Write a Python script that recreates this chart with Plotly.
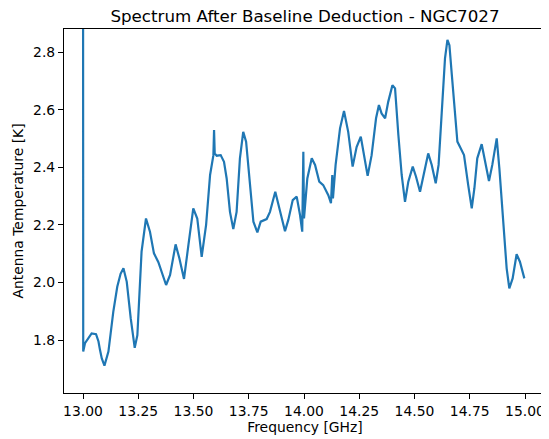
import plotly.graph_objects as go

# Spectrum values
freq_ghz = [
    13.000, 13.001, 13.009, 13.020, 13.039, 13.059, 13.070, 13.077, 13.085, 13.097,
    13.115, 13.137, 13.155, 13.170, 13.183, 13.198, 13.216, 13.234, 13.246, 13.265,
    13.285, 13.303, 13.321, 13.341, 13.360, 13.376, 13.394, 13.419, 13.436, 13.457,
    13.477, 13.499, 13.517, 13.537, 13.557, 13.575, 13.590, 13.593, 13.596, 13.605,
    13.623, 13.638, 13.650, 13.665, 13.680, 13.695, 13.710, 13.725, 13.738, 13.756,
    13.771, 13.789, 13.804, 13.831, 13.846, 13.870, 13.891, 13.914, 13.929, 13.949,
    13.967, 13.982, 13.992, 13.997, 14.000, 14.015, 14.035, 14.050, 14.069, 14.087,
    14.110, 14.122, 14.128, 14.131, 14.143, 14.163, 14.181, 14.200, 14.220, 14.238,
    14.257, 14.271, 14.288, 14.306, 14.326, 14.339, 14.351, 14.367, 14.381, 14.400,
    14.412, 14.427, 14.442, 14.457, 14.472, 14.492, 14.507, 14.525, 14.543, 14.562,
    14.578, 14.596, 14.609, 14.623, 14.638, 14.649, 14.658, 14.669, 14.683, 14.694,
    14.709, 14.724, 14.743, 14.759, 14.771, 14.784, 14.804, 14.819, 14.837, 14.852,
    14.872, 14.884, 14.902, 14.917, 14.929, 14.944, 14.962, 14.977, 14.997,
]
temp_k = [
    3.500, 1.760, 1.789, 1.800, 1.823, 1.820, 1.795, 1.765, 1.736, 1.711,
    1.760, 1.898, 1.985, 2.030, 2.049, 2.002, 1.875, 1.773, 1.817, 2.107,
    2.222, 2.176, 2.101, 2.070, 2.030, 1.991, 2.026, 2.132, 2.084, 2.012,
    2.130, 2.257, 2.222, 2.089, 2.200, 2.373, 2.442, 2.529, 2.448, 2.440,
    2.442, 2.419, 2.361, 2.245, 2.185, 2.245, 2.431, 2.523, 2.489, 2.338,
    2.211, 2.174, 2.211, 2.220, 2.245, 2.315, 2.245, 2.178, 2.217, 2.286,
    2.298, 2.234, 2.176, 2.454, 2.222, 2.361, 2.431, 2.408, 2.350, 2.338,
    2.303, 2.275, 2.373, 2.292, 2.408, 2.535, 2.595, 2.523, 2.402, 2.470,
    2.506, 2.442, 2.370, 2.442, 2.570, 2.616, 2.587, 2.570, 2.627, 2.685,
    2.674, 2.512, 2.373, 2.280, 2.350, 2.402, 2.367, 2.315, 2.384, 2.448,
    2.408, 2.344, 2.408, 2.604, 2.778, 2.842, 2.824, 2.720, 2.593, 2.489,
    2.466, 2.442, 2.338, 2.257, 2.327, 2.431, 2.480, 2.419, 2.352, 2.408,
    2.500, 2.396, 2.222, 2.049, 1.979, 2.014, 2.098, 2.072, 2.014,
]
x_ticks = [13.00, 13.25, 13.50, 13.75, 14.00, 14.25, 14.50, 14.75, 15.00]
y_ticks = [1.8, 2.0, 2.2, 2.4, 2.6, 2.8]

fig = go.Figure()
fig.add_trace(go.Scatter(
    x=freq_ghz, y=temp_k, mode="lines",
    line=dict(color="#1f77b4", width=2.2),
))

font = "DejaVu Sans"
axis_style = dict(
    showline=True, linecolor="black", linewidth=1.1, mirror=True,
    showgrid=False, zeroline=False,
    ticks="outside", ticklen=5, tickwidth=1.1, tickcolor="black",
    tickfont=dict(family=font, size=13.9, color="black"),
)

# the page body adds an 8px margin, so the figure is 8px smaller and shifted
W, H = 541, 431
fig.update_layout(
    width=W, height=H,
    margin=dict(l=56, r=3, t=21, b=46),
    paper_bgcolor="white", plot_bgcolor="white",
    showlegend=False,
    title=dict(
        text="Spectrum After Baseline Deduction - NGC7027",
        x=0.5, xref="paper", y=1 - 8 / H, yref="container", yanchor="middle",
        font=dict(family=font, size=16.7, color="black"),
    ),
    xaxis=dict(
        axis_style, range=[12.914, 15.095],
        tickvals=x_ticks, ticktext=[f"{t:.2f}" for t in x_ticks],
        title=dict(text="Frequency [GHz]", standoff=4,
                   font=dict(family=font, size=13.9, color="black")),
    ),
    yaxis=dict(
        axis_style, range=[1.616, 2.88],
        tickvals=y_ticks, ticktext=[f"{t:.1f}" for t in y_ticks],
        title=dict(text="Antenna Temperature [K]", standoff=6,
                   font=dict(family=font, size=13.9, color="black")),
    ),
)

fig.write_html("out.html")
